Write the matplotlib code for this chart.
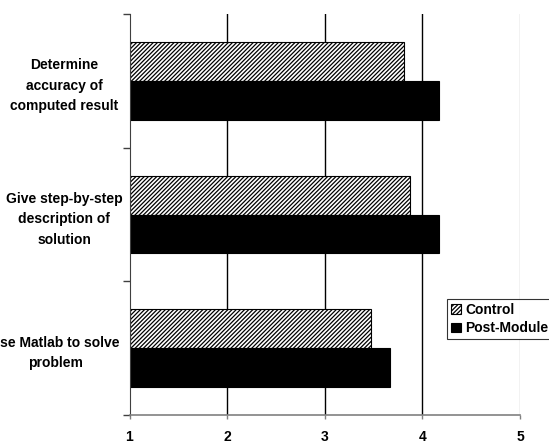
import numpy as np
import matplotlib
matplotlib.use("Agg")
import matplotlib.pyplot as plt
import matplotlib.transforms as mtransforms

plt.rcParams['font.family'] = ['Liberation Sans', 'DejaVu Sans']
plt.rcParams['hatch.linewidth'] = 0.9

#____Data
categories = ["Determine\naccuracy of\ncomputed result",
              "Give step-by-step\ndescription of\nsolution",
              "Use Matlab to solve\nproblem"]
control = [3.81, 3.87, 3.47]
post_module = [4.17, 4.17, 3.67]
series_names = ["Control", "Post-Module"]
x_ticks = [1, 2, 3, 4, 5]

fig = plt.figure(figsize=(5.49, 4.43), dpi=100)
ax = fig.add_axes([129.5 / 549, 1 - 415 / 443, (520 - 129.5) / 549, (415 - 14) / 443])

ypos = np.arange(len(categories))
bar_h = 0.29

# grid lines first so bars sit on top
for xv in x_ticks[1:-1]:
    ax.axvline(xv, color='black', lw=1.0, zorder=1)
ax.axvline(x_ticks[-1], color='#c0c0c0', lw=1.0, zorder=1)

ax.barh(ypos - bar_h / 2, np.array(control) - 1, left=1, height=bar_h,
        color='white', edgecolor='black', hatch='////////', lw=0.8,
        label=series_names[0], zorder=2)
ax.barh(ypos + bar_h / 2, np.array(post_module) - 1, left=1, height=bar_h,
        color='black', edgecolor='black', lw=0.8,
        label=series_names[1], zorder=2)

ax.set_xlim(1, 5)
ax.set_ylim(len(categories) - 0.5, -0.5)
ax.set_xticks(x_ticks)
ax.set_xticklabels([str(v) for v in x_ticks], fontsize=10, fontweight='bold')
ax.tick_params(axis='x', direction='out', length=3, width=1, color='#808080', pad=8)

# category boundaries carry the y ticks, the labels sit between them
ax.set_yticks(np.arange(len(categories) + 1) - 0.5)
ax.set_yticklabels([])
ax.set_yticks(ypos, minor=True)
ylabels = ax.set_yticklabels(categories, minor=True, fontsize=10, fontweight='bold',
                             ha='center', linespacing=1.6)
ax.tick_params(axis='y', which='major', direction='out', length=5, width=1, color='#404040')
ax.tick_params(axis='y', which='minor', length=0, pad=47)

# the long bottom label runs off the left edge in the original
shift = mtransforms.ScaledTranslation(-9 / 100, 0, fig.dpi_scale_trans)
ylabels[-1].set_transform(ylabels[-1].get_transform() + shift)

for side in ['top', 'right']:
    ax.spines[side].set_visible(False)
ax.spines['left'].set_color('#404040')
ax.spines['bottom'].set_color('#808080')
ax.spines['bottom'].set_linewidth(1.2)

leg = fig.legend(loc='upper left', bbox_to_anchor=(447 / 549, 1 - 299 / 443),
                 prop={'weight': 'bold', 'size': 10},
                 frameon=True, fancybox=False, edgecolor='black',
                 handlelength=0.7, handleheight=0.7, handletextpad=0.3,
                 borderpad=0.3, labelspacing=0.3, borderaxespad=0)
leg.get_frame().set_linewidth(0.8)

fig.savefig("out.png", dpi=100)
